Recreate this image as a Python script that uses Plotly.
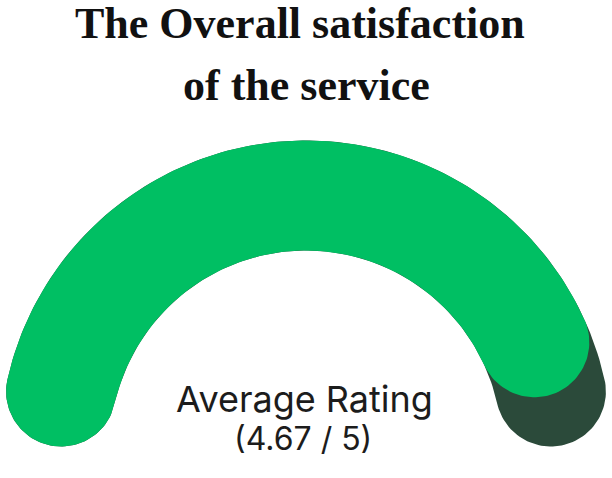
import numpy as np
import plotly.graph_objects as go

# ---- data ----
title_lines = ["The Overall satisfaction", "of the service"]
label_lines = ["Average Rating", "(4.67 / 5)"]
rating_value = 4.67
rating_max = 5.0
colors = ["#00BF63", "#2B4A3A"]   # value, remainder

W, H = 612, 478
# gauge geometry in units of the outer radius
R_OUT = 1.0
R_IN = 196 / 306
CX_PX, CY_PX, SCALE = 306, 446.5, 306.0


def val_to_angle(v):
    return 180.0 * (1.0 - v / rating_max)


def rounded_arc(a_start, a_end, ri, ro, n=120):
    m = (ri + ro) / 2
    h = (ro - ri) / 2
    d = np.degrees(np.arcsin(h / m))
    c1, c2 = a_start - d, a_end + d
    xs, ys = [], []
    t = np.radians(np.linspace(c1, c2, n))
    xs += list(ro * np.cos(t)); ys += list(ro * np.sin(t))
    cx2, cy2 = m * np.cos(np.radians(c2)), m * np.sin(np.radians(c2))
    p = np.radians(np.linspace(c2, c2 - 180, 60))
    xs += list(cx2 + h * np.cos(p)); ys += list(cy2 + h * np.sin(p))
    t = np.radians(np.linspace(c2, c1, n))
    xs += list(ri * np.cos(t)); ys += list(ri * np.sin(t))
    cx1, cy1 = m * np.cos(np.radians(c1)), m * np.sin(np.radians(c1))
    p = np.radians(np.linspace(c1 + 180, c1, 60))
    xs += list(cx1 + h * np.cos(p)); ys += list(cy1 + h * np.sin(p))
    return xs, ys


fig = go.Figure()
# remainder track (drawn underneath)
x, y = rounded_arc(val_to_angle(0), val_to_angle(rating_max), R_IN, R_OUT)
fig.add_trace(go.Scatter(x=x, y=y, fill="toself", mode="lines",
                         line=dict(width=0, color=colors[1]), fillcolor=colors[1],
                         hoverinfo="skip", showlegend=False))
# value arc
x, y = rounded_arc(val_to_angle(0), val_to_angle(rating_value), R_IN, R_OUT)
fig.add_trace(go.Scatter(x=x, y=y, fill="toself", mode="lines",
                         line=dict(width=0, color=colors[0]), fillcolor=colors[0],
                         hoverinfo="skip", showlegend=False))

x0 = -CX_PX / SCALE
x1 = (W - CX_PX) / SCALE
y1 = CY_PX / SCALE
y0 = -(H - CY_PX) / SCALE


def py(p):
    return 1 - p / H


annotations = [
    dict(text=title_lines[0], x=300 / W, y=py(23), font=dict(family="Liberation Serif", size=44, color="#111111")),
    dict(text=title_lines[1], x=306 / W, y=py(85), font=dict(family="Liberation Serif", size=44, color="#111111")),
    dict(text=label_lines[0], x=304 / W, y=py(399), font=dict(family="Inter", size=36, color="#1c1c1c")),
    dict(text=label_lines[1], x=303 / W, y=py(438), font=dict(family="Inter", size=32, color="#1c1c1c")),
]
for a in annotations:
    a.update(xref="paper", yref="paper", xanchor="center", yanchor="middle", showarrow=False)
annotations[0]["text"] = "<b>" + annotations[0]["text"] + "</b>"
annotations[1]["text"] = "<b>" + annotations[1]["text"] + "</b>"

fig.update_layout(
    width=W, height=H,
    margin=dict(l=0, r=0, t=0, b=0),
    paper_bgcolor="white", plot_bgcolor="white",
    xaxis=dict(range=[x0, x1], visible=False, fixedrange=True),
    yaxis=dict(range=[y0, y1], visible=False, fixedrange=True),
    annotations=annotations,
)
fig.write_html("out.html", config={"displayModeBar": False},
               post_script="document.body.style.margin='0';")
